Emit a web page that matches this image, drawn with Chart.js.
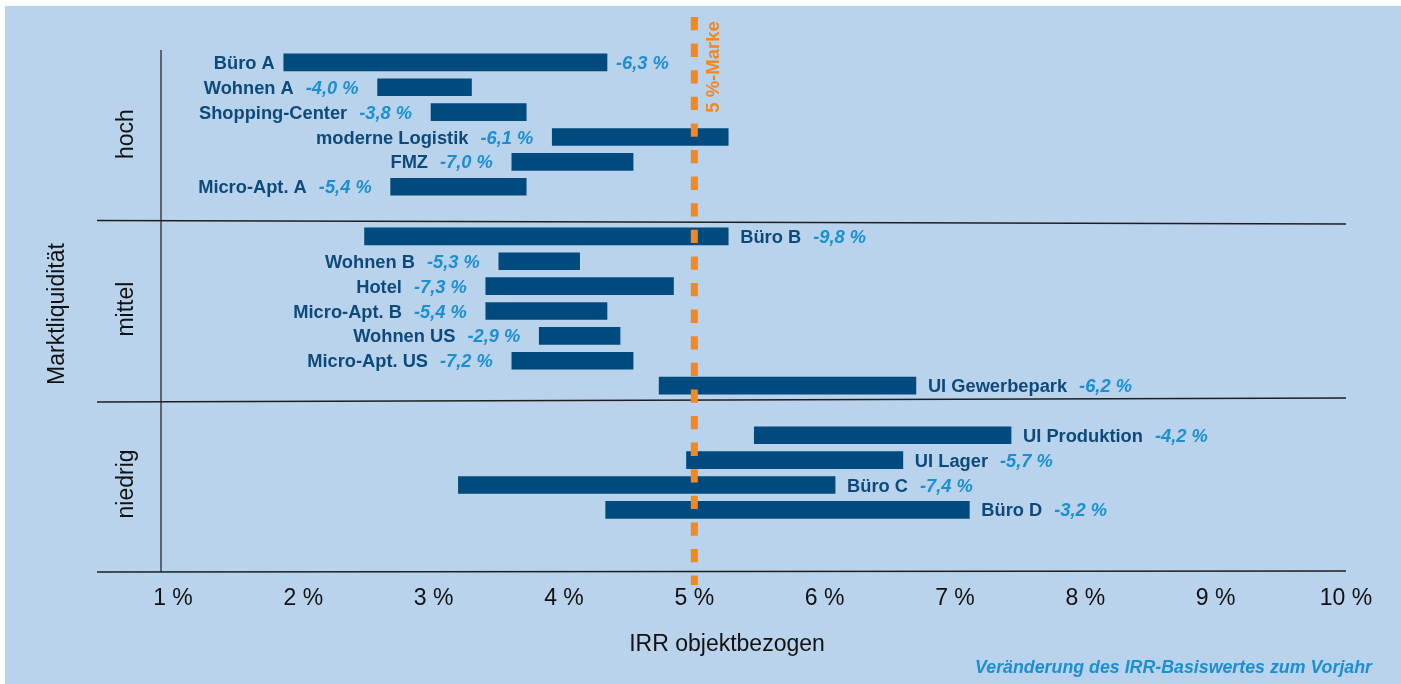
<!DOCTYPE html>
<html>
<head>
<meta charset="utf-8">
<script src="https://cdn.jsdelivr.net/npm/chart.js@4.4.0/dist/chart.umd.min.js"></script>
<style>
  html, body { margin: 0; padding: 0; background: #fff; }
  #wrap { width: 1401px; height: 684px; }
</style>
</head>
<body>
<div id="wrap"><canvas id="c" width="1401" height="684"></canvas></div>
<script>
// ---------- data ----------
const names = ['Büro A', 'Wohnen A', 'Shopping-Center', 'moderne Logistik', 'FMZ', 'Micro-Apt. A',
  'Büro B', 'Wohnen B', 'Hotel', 'Micro-Apt. B', 'Wohnen US', 'Micro-Apt. US', 'UI Gewerbepark',
  'UI Produktion', 'UI Lager', 'Büro C', 'Büro D'];
const groups = ['hoch', 'mittel', 'niedrig'];
const groupSizes = [6, 7, 4];
const irrFrom = [1.85, 2.57, 2.98, 3.91, 3.60, 2.67, 2.47, 3.50, 3.40, 3.40, 3.81, 3.60, 4.73, 5.46, 4.94, 3.19, 4.32];
const irrTo   = [4.33, 3.29, 3.71, 5.26, 4.53, 3.71, 5.26, 4.12, 4.84, 4.33, 4.43, 4.53, 6.70, 7.43, 6.60, 6.08, 7.11];
const changes = [-6.3, -4.0, -3.8, -6.1, -7.0, -5.4, -9.8, -5.3, -7.3, -5.4, -2.9, -7.2, -6.2, -4.2, -5.7, -7.4, -3.2];
const labelSide = ['split', 'left', 'left', 'left', 'left', 'left', 'right', 'left', 'left', 'left', 'left', 'left', 'right', 'right', 'right', 'right', 'right'];
const tickValues = [1, 2, 3, 4, 5, 6, 7, 8, 9, 10];
const tickLabels = ['1 %', '2 %', '3 %', '4 %', '5 %', '6 %', '7 %', '8 %', '9 %', '10 %'];
const markValue = 5;
const markLabel = '5 %-Marke';
const xTitle = 'IRR objektbezogen';
const yTitle = 'Marktliquidität';
const footnote = 'Veränderung des IRR-Basiswertes zum Vorjahr';

// ---------- build slots (one empty slot between groups, two at the end) ----------
const slotLabels = [], slotData = [], slotItem = [];
let k = 0;
groupSizes.forEach((n, g) => {
  for (let i = 0; i < n; i++, k++) {
    slotLabels.push(names[k]);
    slotData.push([irrFrom[k], irrTo[k]]);
    slotItem.push(k);
  }
  const spacers = g === groupSizes.length - 1 ? 2 : 1;
  for (let s = 0; s < spacers; s++) { slotLabels.push(''); slotData.push(null); slotItem.push(-1); }
});

const FONT = "'Liberation Sans', Arial, Helvetica, sans-serif";
const BG = '#b9d3ec';
const BAR = '#004a7d';
const NAME = '#0d4a7b';
const PCT = '#1b8fd1';
const ORANGE = '#f5871f';
const fmt = v => v.toFixed(1).replace('.', ',') + ' %';

const overlay = {
  id: 'overlay',
  beforeDraw(chart) {
    const ctx = chart.ctx;
    ctx.save();
    ctx.fillStyle = '#ffffff';
    ctx.fillRect(0, 0, chart.width, chart.height);
    ctx.fillStyle = BG;
    ctx.fillRect(5, 6, chart.width - 5, chart.height - 6);
    ctx.restore();
  },
  afterDatasetsDraw(chart) {
    const ctx = chart.ctx;
    const xs = chart.scales.x, ys = chart.scales.y;
    const area = chart.chartArea;
    const meta = chart.getDatasetMeta(0);
    ctx.save();

    // bar labels
    meta.data.forEach((bar, i) => {
      const item = slotItem[i];
      if (item < 0) return;
      const start = Math.min(bar.x, bar.base), end = Math.max(bar.x, bar.base);
      const yb = bar.y + 6.5;
      const nameFont = 'bold 18.3px ' + FONT;
      const pctFont = 'italic bold 18.3px ' + FONT;
      const nm = names[item], pc = fmt(changes[item]);
      ctx.textBaseline = 'alphabetic';
      const side = labelSide[item];
      if (side === 'left') {
        ctx.font = pctFont; ctx.fillStyle = PCT; ctx.textAlign = 'right';
        const px = start - 19;
        ctx.fillText(pc, px, yb);
        const w = ctx.measureText(pc).width;
        ctx.font = nameFont; ctx.fillStyle = NAME;
        ctx.fillText(nm, px - w - 12, yb);
      } else if (side === 'split') {
        ctx.font = nameFont; ctx.fillStyle = NAME; ctx.textAlign = 'right';
        ctx.fillText(nm, start - 9, yb);
        ctx.font = pctFont; ctx.fillStyle = PCT; ctx.textAlign = 'left';
        ctx.fillText(pc, end + 9, yb);
      } else {
        ctx.font = nameFont; ctx.fillStyle = NAME; ctx.textAlign = 'left';
        const nx = end + 12;
        ctx.fillText(nm, nx, yb);
        const w = ctx.measureText(nm).width;
        ctx.font = pctFont; ctx.fillStyle = PCT;
        ctx.fillText(pc, nx + w + 12, yb);
      }
    });

    // frame lines
    ctx.strokeStyle = '#1e1e1e';
    ctx.lineWidth = 1.4;
    const left = area.left, right = area.right;
    const dividers = [[6.36, 6.5], [13.66, 13.5]];
    dividers.forEach(d => {
      ctx.beginPath();
      ctx.moveTo(left, ys.getPixelForValue(d[0]));
      ctx.lineTo(right, ys.getPixelForValue(d[1]));
      ctx.stroke();
    });
    ctx.beginPath();
    ctx.moveTo(left, area.bottom); ctx.lineTo(right, area.bottom - 1); ctx.stroke();
    ctx.lineWidth = 1.2;
    ctx.beginPath();
    ctx.moveTo(161, area.top); ctx.lineTo(161, area.bottom); ctx.stroke();

    // group labels
    const bounds = [area.top, ys.getPixelForValue(6.43), ys.getPixelForValue(13.58), area.bottom];
    ctx.font = '23px ' + FONT; ctx.fillStyle = '#111'; ctx.textAlign = 'center'; ctx.textBaseline = 'middle';
    groups.forEach((g, i) => {
      ctx.save();
      ctx.translate(127, (bounds[i] + bounds[i + 1]) / 2 - 2);
      ctx.rotate(-Math.PI / 2);
      ctx.fillText(g, 0, 0);
      ctx.restore();
    });
    // y title
    ctx.save();
    ctx.translate(58, 314);
    ctx.rotate(-Math.PI / 2);
    ctx.fillText(yTitle, 0, 0);
    ctx.restore();
    // x title
    ctx.fillText(xTitle, 727, 645);

    // footnote
    ctx.font = 'italic bold 17.8px ' + FONT; ctx.fillStyle = PCT; ctx.textAlign = 'right';
    ctx.fillText(footnote, 1372, 668);

    // 5 % mark
    const mx = xs.getPixelForValue(markValue);
    ctx.strokeStyle = ORANGE; ctx.lineWidth = 7;
    ctx.setLineDash([13.3, 13.3]);
    ctx.beginPath(); ctx.moveTo(mx, 17); ctx.lineTo(mx, 585); ctx.stroke();
    ctx.setLineDash([]);
    ctx.save();
    ctx.translate(mx + 20, 67);
    ctx.rotate(-Math.PI / 2);
    ctx.font = 'bold 18.5px ' + FONT; ctx.fillStyle = ORANGE; ctx.textAlign = 'center'; ctx.textBaseline = 'middle';
    ctx.fillText(markLabel, 0, 0);
    ctx.restore();

    ctx.restore();
  }
};

new Chart(document.getElementById('c'), {
  type: 'bar',
  data: {
    labels: slotLabels,
    datasets: [{
      data: slotData,
      backgroundColor: BAR,
      borderWidth: 0,
      barThickness: 17
    }]
  },
  options: {
    indexAxis: 'y',
    responsive: false,
    animation: false,
    devicePixelRatio: 1,
    layout: { padding: { top: 50, left: 97, right: 55, bottom: 0 } },
    plugins: { legend: { display: false }, tooltip: { enabled: false } },
    scales: {
      x: {
        type: 'linear',
        min: 0.417,
        max: 10,
        grid: { display: false, drawTicks: false, tickLength: 0 },
        border: { display: false },
        afterBuildTicks: (scale) => { scale.ticks = tickValues.map(v => ({ value: v })); },
        afterFit: (scale) => { scale.height = 112; },
        ticks: {
          padding: 13,
          color: '#111',
          font: { family: FONT, size: 23 },
          maxRotation: 0,
          autoSkip: false,
          callback: (v, i) => tickLabels[i]
        }
      },
      y: {
        type: 'category',
        display: false,
        offset: true
      }
    }
  },
  plugins: [overlay]
});
</script>
</body>
</html>
